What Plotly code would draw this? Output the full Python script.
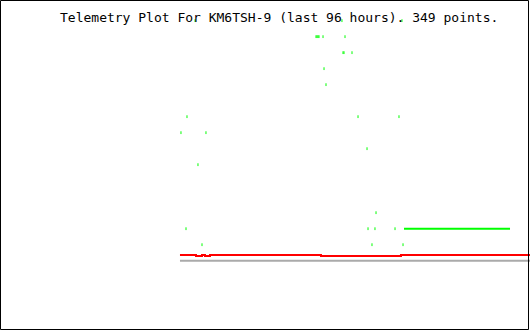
import plotly.graph_objects as go

# ---- data (hours relative to now, value units) ----
title_text = "Telemetry Plot For KM6TSH-9 (last 96 hours). 349 points."

dot_hours = [-38.76, -38.58, -38.40, -38.22, -37.49, -33.51,
             -33.87, -33.69, -32.24,
             -37.31, -36.95,
             -62.13, -31.15, -23.73,
             -63.22, -58.69,
             -29.52,
             -60.14,
             -27.89,
             -62.31, -29.34, -28.08, -24.45,
             -59.41, -28.62, -23.00,
             -60.67, -34.06, -23.19]
dot_values = [14, 14, 14, 14, 14, 14,
              13, 13, 13,
              12, 11,
              9, 9, 9,
              8, 8,
              7,
              6,
              3,
              2, 2, 2, 2,
              1, 1, 1,
              15, 15, 15]

green_run_hours = [-22.82, -3.62]
green_run_values = [2, 2]

red_hours = [-63.40, -60.50, -59.41, -58.87, -57.96, -37.86, -23.37, 0.0]
red_values = [0.36, 0.29, 0.36, 0.29, 0.36, 0.29, 0.36, 0.36]

gray_hours = [-63.40, 0.0]
gray_values = [0.0, 0.0]

W, H = 530, 330

fig = go.Figure()
fig.add_trace(go.Scatter(x=gray_hours, y=gray_values, mode="lines",
                         line=dict(color="#aaaaaa", width=2), hoverinfo="skip"))
fig.add_trace(go.Scatter(x=red_hours, y=red_values, mode="lines",
                         line=dict(color="#ff0000", width=2, shape="hv"), hoverinfo="skip"))
fig.add_trace(go.Scatter(x=green_run_hours, y=green_run_values, mode="lines",
                         line=dict(color="#00ff00", width=2), hoverinfo="skip"))
fig.add_trace(go.Scatter(x=dot_hours, y=dot_values, mode="markers",
                         marker=dict(symbol="line-ns", size=2, color="#00ff00",
                                     line=dict(color="#00ff00", width=1)),
                         hoverinfo="skip"))

fig.update_layout(
    width=W, height=H, autosize=False,
    margin=dict(l=0, r=0, t=0, b=0, pad=0),
    paper_bgcolor="white", plot_bgcolor="white",
    showlegend=False,
    xaxis=dict(range=[-96, 0], visible=False, fixedrange=True),
    yaxis=dict(range=[-4.33, 16.29], visible=False, fixedrange=True),
    shapes=[dict(type="rect", xref="paper", yref="paper",
                 x0=0.5 / W, x1=(W - 1.5) / W, y0=0.5 / H, y1=(H - 0.5) / H,
                 line=dict(color="black", width=1), fillcolor="rgba(0,0,0,0)",
                 layer="above")],
    annotations=[dict(text=title_text, xref="paper", yref="paper",
                      x=58 / W, y=1 - 17 / H, xanchor="left", yanchor="middle",
                      showarrow=False,
                      font=dict(family="DejaVu Sans Mono", size=13, color="black"))],
)

fig.write_html("out.html", config={"displayModeBar": False})
